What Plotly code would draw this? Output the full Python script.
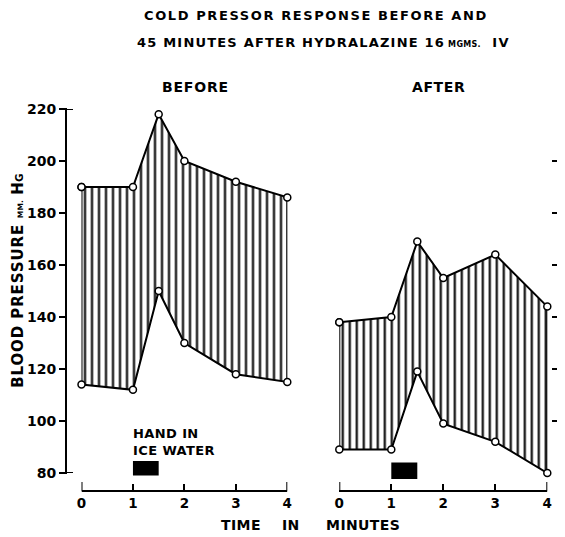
import plotly.graph_objects as go

# ---- data ----
times = [0, 1, 1.5, 2, 3, 4]
before_systolic = [190, 190, 218, 200, 192, 186]
before_diastolic = [114, 112, 150, 130, 118, 115]
after_systolic = [138, 140, 169, 155, 164, 144]
after_diastolic = [89, 89, 119, 99, 92, 80]
ice_water = [1, 1.5]
x_ticks = [0, 1, 2, 3, 4]
y_ticks = [80, 100, 120, 140, 160, 180, 200, 220]

# page has an 8px body margin; figure is sized so that it fills the window
OFF = 8
W, H = 565 - OFF, 537 - OFF
FONT = "DejaVu Sans"


def px(x):
    return (x - OFF) / W


def py(y):
    return (H - (y - OFF)) / H


def sp(text, ls=1.5, size=None):
    st = f"letter-spacing:{ls}px"
    if size:
        st += f";font-size:{size}px"
    return f'<span style="{st}">{text}</span>'


def bfont(size, family=FONT):
    return dict(family=family, size=size, color="black", weight="bold")


fig = go.Figure()


def band(upper, lower, xa, ya):
    xs = times + times[::-1] + [times[0]]
    ys = upper + lower[::-1] + [upper[0]]
    fig.add_trace(go.Scatter(
        x=xs, y=ys, xaxis=xa, yaxis=ya, mode="lines+markers",
        fill="toself",
        fillpattern=dict(shape="|", size=7, solidity=0.3,
                         fgcolor="black", bgcolor="white"),
        line=dict(color="black", width=2),
        marker=dict(symbol="circle", size=7, color="white",
                    line=dict(color="black", width=1.5)),
        cliponaxis=False, showlegend=False, hoverinfo="skip"))


band(before_systolic, before_diastolic, "x", "y")
band(after_systolic, after_diastolic, "x2", "y2")

ydom = [py(473), py(109)]
common_x = dict(range=[0, 4], tickvals=x_ticks, ticks="inside", ticklen=6,
                tickwidth=2, tickcolor="black", showline=True, linecolor="black",
                linewidth=2, showgrid=False, zeroline=False, anchor="free",
                position=py(491), tickfont=bfont(13.5), automargin=False)
fig.update_layout(
    template="none",
    width=W, height=H, margin=dict(l=0, r=0, t=0, b=0, pad=0, autoexpand=False),
    paper_bgcolor="white", plot_bgcolor="rgba(0,0,0,0)",
    xaxis=dict(domain=[px(81.5), px(287.3)], **common_x),
    xaxis2=dict(domain=[px(339.3), px(547.3)], **common_x),
    yaxis=dict(domain=ydom, range=[80, 220], tickvals=y_ticks, ticks="outside",
               ticklen=7, tickwidth=2, tickcolor="black", showline=False,
               showgrid=False, zeroline=False, anchor="free", position=px(66),
               tickfont=bfont(14), automargin=False),
    yaxis2=dict(domain=ydom, range=[80, 220], tickvals=y_ticks, ticks="inside",
                ticklen=10, tickwidth=2, tickcolor="black", showline=False,
                showgrid=False, zeroline=False, anchor="free", position=px(562),
                side="right", showticklabels=False, automargin=False),
)

blk = dict(color="black", width=2)
shapes = []
# y axis lines
shapes.append(dict(type="line", xref="paper", yref="paper", x0=px(66), x1=px(66),
                   y0=py(474), y1=py(108), line=blk))
shapes.append(dict(type="line", xref="paper", yref="paper", x0=px(562), x1=px(562),
                   y0=py(480), y1=py(106), line=blk))
# inward stubs at ends of left y axis
for v in (y_ticks[0], y_ticks[-1]):
    shapes.append(dict(type="line", xref="paper", yref="y", x0=px(65), x1=px(73),
                       y0=v, y1=v, line=blk))
# taller end ticks on x axes
for xr in ("x", "x2"):
    for v in (0, 4):
        shapes.append(dict(type="line", xref=xr, yref="paper", x0=v, x1=v,
                           y0=py(491.5), y1=py(482), line=blk))
# ice water bars
shapes.append(dict(type="rect", xref="x", yref="paper", x0=ice_water[0], x1=ice_water[1],
                   y0=py(475.5), y1=py(461), fillcolor="black", line=dict(width=0)))
shapes.append(dict(type="rect", xref="x2", yref="paper", x0=ice_water[0], x1=ice_water[1],
                   y0=py(479), y1=py(462.5), fillcolor="black", line=dict(width=0)))
fig.update_layout(shapes=shapes)

ann = [
    dict(text=sp("COLD PRESSOR RESPONSE BEFORE AND", 1.6), x=px(316), y=py(15),
         font=bfont(13)),
    dict(text=sp("45 MINUTES AFTER HYDRALAZINE 16", 1.2) + sp("\u00a0MGMS.", 0.3, 8)
         + sp("\u00a0\u00a0IV", 1.2), x=px(323), y=py(43), font=bfont(13)),
    dict(text=sp("BEFORE", 0.8), x=px(195), y=py(87), font=bfont(14)),
    dict(text=sp("AFTER", 0.6), x=px(438), y=py(87), font=bfont(14)),
    dict(text=sp("TIME\u00a0\u00a0\u00a0 IN\u00a0\u00a0\u00a0\u00a0 MINUTES", 0.4),
         x=px(310), y=py(525), font=bfont(14)),
    dict(text=sp("BLOOD PRESSURE", 0.9) + sp("\u00a0\u00a0MM.", 0.2, 7.5) + sp("\u00a0H", 0)
         + sp("G", 0, 10.5),
         x=px(17.8), y=py(281), textangle=-90, font=bfont(15)),
    dict(text=sp("HAND IN<br>ICE WATER", 0.4), x=px(131.5), y=py(442),
         xanchor="left", align="left", font=bfont(13)),
]
for a in ann:
    a.setdefault("xref", "paper")
    a.setdefault("yref", "paper")
    a.setdefault("xanchor", "center")
    a["yanchor"] = "middle"
    a["showarrow"] = False
    a["borderpad"] = 0
fig.update_layout(annotations=ann)

fig.write_html("out.html")
